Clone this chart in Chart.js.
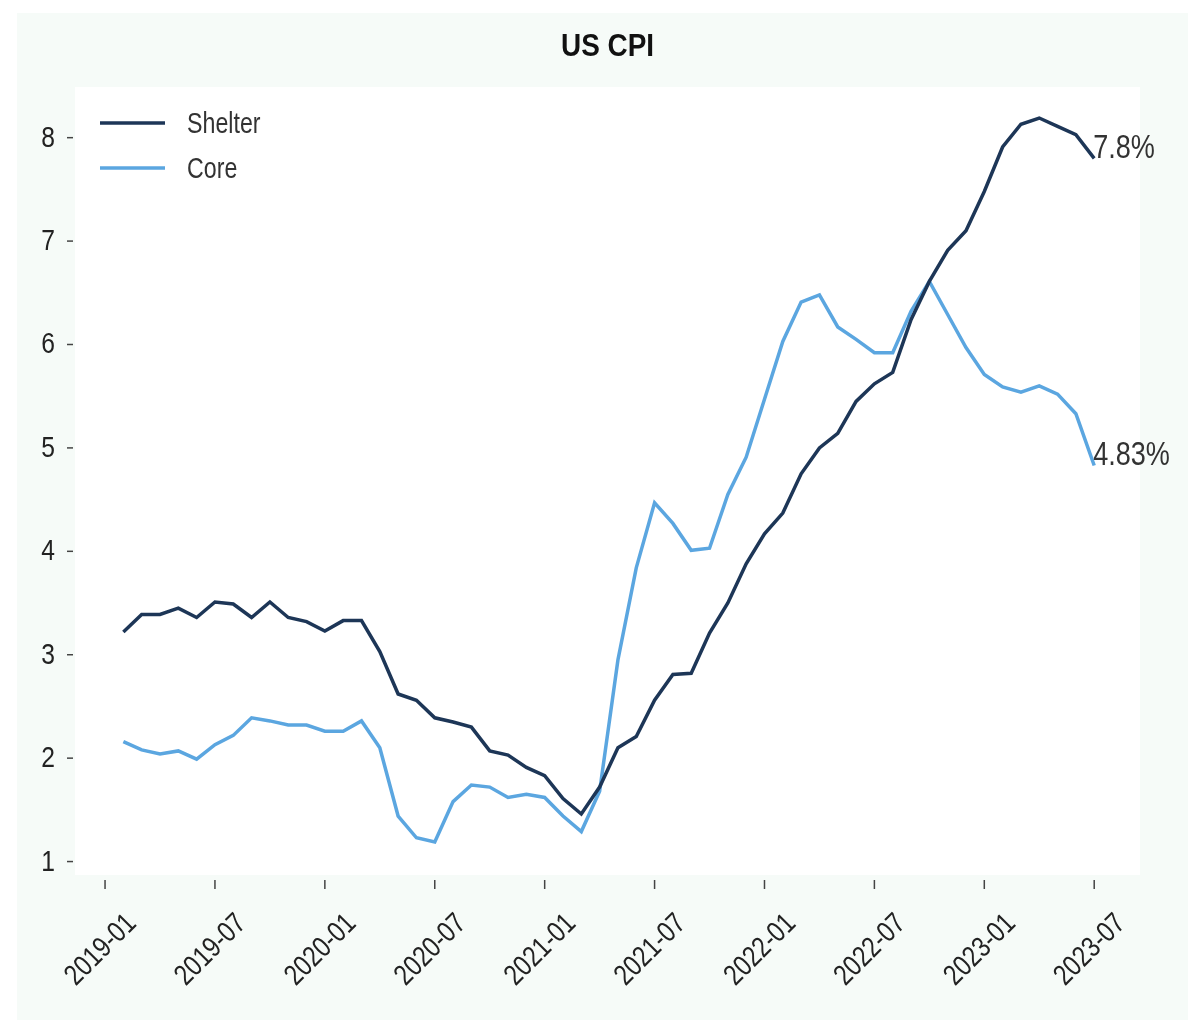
<!DOCTYPE html>
<html>
<head>
<meta charset="utf-8">
<script src="https://cdn.jsdelivr.net/npm/chart.js@4/dist/chart.umd.min.js"></script>
<style>
  html, body { margin: 0; padding: 0; background: #ffffff; }
  #wrap {
    position: absolute; left: 17px; top: 13px;
    width: 1171px; height: 1007px;
    background: #f6fbf8;
  }
</style>
</head>
<body>
<div id="wrap"><canvas id="cpi"></canvas></div>
<script>
// Months (month-end observations)
const months = [
  "2019-01","2019-02","2019-03","2019-04","2019-05","2019-06","2019-07","2019-08","2019-09","2019-10","2019-11","2019-12",
  "2020-01","2020-02","2020-03","2020-04","2020-05","2020-06","2020-07","2020-08","2020-09","2020-10","2020-11","2020-12",
  "2021-01","2021-02","2021-03","2021-04","2021-05","2021-06","2021-07","2021-08","2021-09","2021-10","2021-11","2021-12",
  "2022-01","2022-02","2022-03","2022-04","2022-05","2022-06","2022-07","2022-08","2022-09","2022-10","2022-11","2022-12",
  "2023-01","2023-02","2023-03","2023-04","2023-05","2023-06"
];

const shelter = [
  3.22, 3.39, 3.39, 3.45, 3.36, 3.51, 3.49, 3.36, 3.51, 3.36, 3.32, 3.23,
  3.33, 3.33, 3.03, 2.62, 2.56, 2.39, 2.35, 2.30, 2.07, 2.03, 1.91, 1.83,
  1.61, 1.46, 1.72, 2.10, 2.21, 2.56, 2.81, 2.82, 3.21, 3.50, 3.88, 4.17,
  4.37, 4.75, 5.00, 5.14, 5.45, 5.62, 5.73, 6.24, 6.61, 6.91, 7.10, 7.48,
  7.91, 8.13, 8.19, 8.11, 8.03, 7.80
];

const core = [
  2.16, 2.08, 2.04, 2.07, 1.99, 2.13, 2.22, 2.39, 2.36, 2.32, 2.32, 2.26,
  2.26, 2.36, 2.10, 1.44, 1.23, 1.19, 1.58, 1.74, 1.72, 1.62, 1.65, 1.62,
  1.44, 1.29, 1.68, 2.95, 3.84, 4.47, 4.27, 4.01, 4.03, 4.55, 4.91, 5.47,
  6.03, 6.41, 6.48, 6.17, 6.05, 5.92, 5.92, 6.32, 6.61, 6.29, 5.97, 5.71,
  5.59, 5.54, 5.60, 5.52, 5.33, 4.83
];

const xTickLabels = ["2019-01","2019-07","2020-01","2020-07","2021-01","2021-07","2022-01","2022-07","2023-01","2023-07"];
const yTicks = [1, 2, 3, 4, 5, 6, 7, 8];
const endLabels = ["7.8%", "4.83%"];

const SHELTER_COLOR = "#1d3657";
const CORE_COLOR = "#5ba6e0";
const FONT = "'Liberation Sans', Arial, sans-serif";

// month index, 0 = start of Jan 2019
const monthPos = s => (parseInt(s.slice(0, 4)) - 2019) * 12 + parseInt(s.slice(5, 7)) - 1;
// month-end points sit at start of next month
const toPoints = vals => vals.map((v, i) => ({ x: monthPos(months[i]) + 1, y: v }));

// narrow-looking text: squeeze horizontally
function txt(ctx, s, x, y, o) {
  ctx.save();
  ctx.translate(x, y);
  if (o.rot) ctx.rotate(o.rot);
  ctx.scale(o.sx || 0.8, 1);
  ctx.font = (o.bold ? "bold " : "") + o.size + "px " + FONT;
  ctx.fillStyle = o.color || "#222";
  ctx.textAlign = o.align || "left";
  ctx.textBaseline = o.base || "middle";
  ctx.fillText(s, 0, 0);
  ctx.restore();
}

const bgPlugin = {
  id: "bg",
  beforeDraw(chart) {
    const { ctx, chartArea: a } = chart;
    ctx.save();
    ctx.fillStyle = "#ffffff";
    ctx.fillRect(a.left, a.top, a.right - a.left, a.bottom - a.top);
    ctx.restore();
  }
};

const decoPlugin = {
  id: "deco",
  afterDraw(chart) {
    const { ctx, chartArea: a, scales } = chart;
    ctx.save();

    // title
    txt(ctx, "US CPI", (a.left + a.right) / 2, 47 - 13, { size: 31, bold: true, sx: 0.9, align: "center", color: "#111" });

    // y ticks
    ctx.strokeStyle = "#444";
    ctx.lineWidth = 1.5;
    yTicks.forEach(v => {
      const py = scales.y.getPixelForValue(v);
      ctx.beginPath();
      ctx.moveTo(a.left - 8, py);
      ctx.lineTo(a.left - 2, py);
      ctx.stroke();
      txt(ctx, String(v), a.left - 20, py + 1, { size: 29, sx: 0.85, align: "right" });
    });

    // x ticks + rotated labels centred under ticks
    xTickLabels.forEach(lbl => {
      const px = scales.x.getPixelForValue(monthPos(lbl));
      ctx.beginPath();
      ctx.moveTo(px, a.bottom + 5);
      ctx.lineTo(px, a.bottom + 14);
      ctx.stroke();
      txt(ctx, lbl, px - 4, a.bottom + 75, { size: 29, sx: 0.82, align: "center", rot: -Math.PI / 4 });
    });

    // legend
    const items = [["Shelter", SHELTER_COLOR], ["Core", CORE_COLOR]];
    items.forEach(([name, col], k) => {
      const y = a.top + 36 + k * 45;
      ctx.strokeStyle = col;
      ctx.lineWidth = 3.5;
      ctx.beginPath();
      ctx.moveTo(a.left + 25, y);
      ctx.lineTo(a.left + 90, y);
      ctx.stroke();
      txt(ctx, name, a.left + 112, y + 2, { size: 29, sx: 0.8, color: "#333" });
    });

    // end labels
    chart.data.datasets.forEach((ds, k) => {
      const last = ds.data[ds.data.length - 1];
      const px = scales.x.getPixelForValue(last.x);
      const py = scales.y.getPixelForValue(last.y);
      txt(ctx, endLabels[k], px - 1, py, { size: 33, sx: 0.82, base: "alphabetic", color: "#333" });
    });
    ctx.restore();
  }
};

new Chart(document.getElementById("cpi"), {
  type: "line",
  data: {
    datasets: [
      { label: "Shelter", data: toPoints(shelter), borderColor: SHELTER_COLOR, borderWidth: 3.5, pointRadius: 0, tension: 0 },
      { label: "Core", data: toPoints(core), borderColor: CORE_COLOR, borderWidth: 3.5, pointRadius: 0, tension: 0 }
    ]
  },
  options: {
    responsive: true,
    maintainAspectRatio: false,
    animation: false,
    layout: { padding: { left: 0, right: 48, top: 74, bottom: 0 } },
    plugins: {
      legend: { display: false },
      tooltip: { enabled: false },
      title: { display: false }
    },
    scales: {
      x: {
        type: "linear",
        min: -1.64,
        max: 56.5,
        afterBuildTicks: axis => { axis.ticks = xTickLabels.map(l => ({ value: monthPos(l) })); },
        afterFit: axis => { axis.height = 145; },
        border: { display: false },
        grid: { display: false },
        ticks: { display: false }
      },
      y: {
        min: 0.87,
        max: 8.49,
        afterBuildTicks: axis => { axis.ticks = yTicks.map(v => ({ value: v })); },
        afterFit: axis => { axis.width = 58; },
        border: { display: false },
        grid: { display: false },
        ticks: { display: false }
      }
    }
  },
  plugins: [bgPlugin, decoPlugin]
});
</script>
</body>
</html>
